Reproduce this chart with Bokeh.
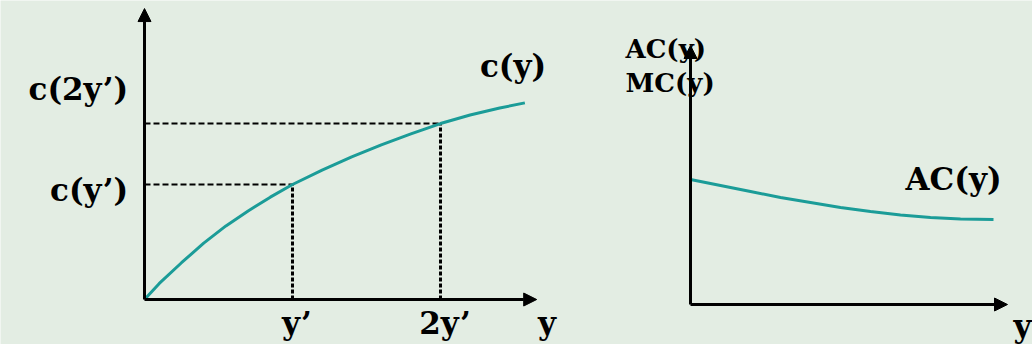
from bokeh.plotting import figure
from bokeh.models import Range1d, Arrow, NormalHead
from bokeh.core.properties import value
from bokeh.embed import file_html
from bokeh.resources import INLINE

# ---- data -------------------------------------------------------------
# total cost c(y), output measured in units of y'
output_y = [0, 0.1, 0.25, 0.4, 0.55, 0.7, 0.85, 1.0, 1.2, 1.4, 1.6, 1.8, 2.0, 2.2, 2.4, 2.57]
cost_c = [0, 0.14, 0.32, 0.49, 0.64, 0.77, 0.89, 1.0, 1.125, 1.24, 1.345, 1.44, 1.53, 1.605, 1.665, 1.71]

# marked outputs and their tick labels
marked_y = [1.0, 2.0]
marked_labels = ["y\u2019", "2y\u2019"]
cost_labels = ["c(y\u2019)", "c(2y\u2019)"]

# average cost AC(y)
ac_y = [0, 0.3, 0.6, 0.9, 1.2, 1.5, 1.8, 2.1, 2.4, 2.7, 3.03]
ac_values = [1.25, 1.19, 1.13, 1.07, 1.02, 0.97, 0.93, 0.895, 0.87, 0.855, 0.85]

# ---- styling ----------------------------------------------------------
BG = "#e3ede3"
TEAL = "#1b9c98"
FONT = value("DejaVu Serif")

# one canvas, two coordinate systems: default ranges for the total-cost
# panel, "ac" ranges for the average-cost panel on the right
p = figure(width=1032, height=344, x_range=Range1d(-0.973, 6.0), y_range=Range1d(-0.391, 2.6),
           output_backend="svg", toolbar_location=None, min_border=0)
p.extra_x_ranges = {"ac": Range1d(-6.90, 3.42)}
p.extra_y_ranges = {"ac": Range1d(-0.40, 3.04)}
p.background_fill_color = BG
p.border_fill_color = BG
p.outline_line_color = None
p.axis.visible = False
p.grid.visible = False


def axes_arrows(x_end, y_end, rng="default"):
    for (x1, y1) in [(x_end, 0), (0, y_end)]:
        p.add_layout(Arrow(x_start=0, y_start=0, x_end=x1, y_end=y1, line_width=3,
                           line_color="black", x_range_name=rng, y_range_name=rng,
                           end=NormalHead(size=13, fill_color="black", line_color="black",
                                          line_width=1)))


def label(x, y, txt, size, align="center", rng="default"):
    p.text(x=[x], y=[y], text=[txt], text_font=FONT, text_font_size=size,
           text_font_style="bold", text_color="black", text_align=align,
           text_baseline="middle", x_range_name=rng, y_range_name=rng)


# ---- left panel: total cost --------------------------------------------
axes_arrows(2.65, 2.53)

c_marked = [cost_c[output_y.index(v)] for v in marked_y]
for xv, cv in zip(marked_y, c_marked):
    p.line([0, xv], [cv, cv], line_color="black", line_width=2, line_dash="6 3")
    p.line([xv, xv], [0, cv], line_color="black", line_width=3, line_dash="4 2")

p.line(output_y, cost_c, line_color=TEAL, line_width=3)

label(-0.11, c_marked[0] - 0.05, cost_labels[0], "31px", "right")
label(-0.11, c_marked[1] + 0.30, cost_labels[1], "31px", "right")
label(output_y[-1] - 0.08, cost_c[-1] + 0.32, "c(y)", "31px")
for xv, t in zip(marked_y, marked_labels):
    label(xv + 0.03, -0.20, t, "31px")
label(2.72, -0.20, "y", "31px")

# ---- right panel: average cost -----------------------------------------
axes_arrows(3.17, 2.59, "ac")

p.line(ac_y, ac_values, line_color=TEAL, line_width=3, x_range_name="ac", y_range_name="ac")

label(-0.65, 2.56, "AC(y)", "26px", "left", "ac")
label(-0.65, 2.22, "MC(y)", "26px", "left", "ac")
label(2.15, 1.26, "AC(y)", "31px", "left", "ac")
label(3.41, -0.21, "y", "31px", "right", "ac")

open("out.html", "w").write(file_html(p, INLINE))
